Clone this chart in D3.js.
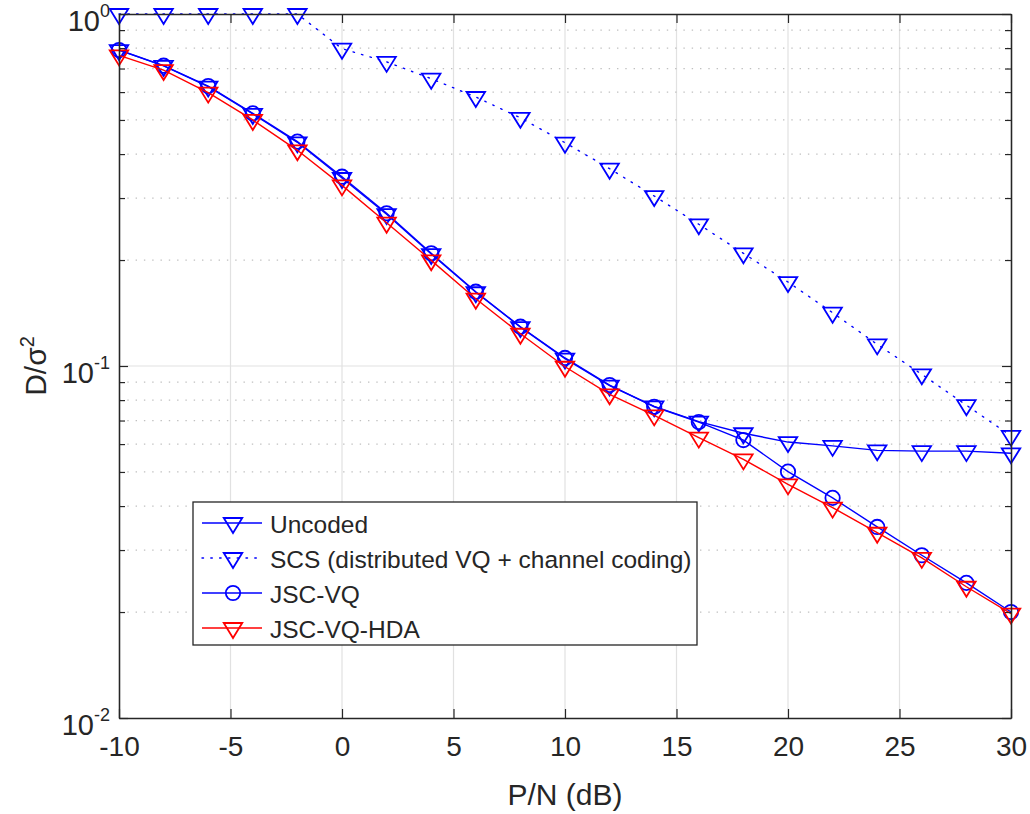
<!DOCTYPE html>
<html>
<head>
<meta charset="utf-8">
<script src="https://cdn.jsdelivr.net/npm/d3@7"></script>
<style>
  html, body { margin: 0; padding: 0; background: #fff; }
  svg { display: block; }
  text { font-family: "Liberation Sans", Arial, Helvetica, sans-serif; fill: #262626; }
</style>
</head>
<body>
<svg id="chart" width="1030" height="814"></svg>
<script>
// ---------------- data ----------------
const snrDb = [-10, -8, -6, -4, -2, 0, 2, 4, 6, 8, 10, 12, 14, 16, 18, 20, 22, 24, 26, 28, 30];
const uncoded = [0.790, 0.712, 0.622, 0.520, 0.432, 0.342, 0.270, 0.208, 0.162, 0.129, 0.105, 0.088, 0.0768, 0.0695, 0.0644, 0.0608, 0.0593, 0.0576, 0.0573, 0.0573, 0.0565];
const scs = [1.0, 1.0, 1.0, 1.0, 1.0, 0.797, 0.731, 0.655, 0.581, 0.507, 0.431, 0.3635, 0.304, 0.2527, 0.209, 0.1732, 0.1417, 0.1152, 0.0947, 0.0774, 0.0633];
const jscVq = [0.790, 0.713, 0.624, 0.522, 0.434, 0.345, 0.2716, 0.209, 0.1626, 0.1293, 0.1054, 0.0883, 0.0766, 0.0693, 0.0616, 0.0501, 0.0422, 0.0349, 0.0290, 0.0242, 0.0200];
const jscVqHda = [0.763, 0.693, 0.598, 0.500, 0.410, 0.326, 0.2553, 0.1996, 0.1553, 0.1235, 0.0995, 0.0831, 0.0724, 0.0626, 0.0543, 0.0461, 0.0396, 0.0336, 0.0285, 0.0236, 0.0198];

const seriesNames = ["Uncoded", "SCS (distributed VQ + channel coding)", "JSC-VQ", "JSC-VQ-HDA"];
const xTickValues = [-10, -5, 0, 5, 10, 15, 20, 25, 30];
const xTickLabels = ["-10", "-5", "0", "5", "10", "15", "20", "25", "30"];
const yMajorTicks = [0.01, 0.1, 1];
const yTickExponents = ["-2", "-1", "0"];
const yMinorTicks = [0.02, 0.03, 0.04, 0.05, 0.06, 0.07, 0.08, 0.09, 0.2, 0.3, 0.4, 0.5, 0.6, 0.7, 0.8, 0.9];
const xLabel = "P/N (dB)";

// ---------------- layout ----------------
const L = 119, R = 1011, T = 14, B = 718;
const svg = d3.select("#chart");
const x = d3.scaleLinear().domain([-10, 30]).range([L, R]);
const y = d3.scaleLog().domain([0.01, 1]).range([B, T]);

const BLUE = "#0000ff", RED = "#ff0000", AX = "#262626";

// ---------------- grid ----------------
const grid = svg.append("g");
grid.selectAll("line.vx").data(xTickValues.slice(1, -1)).enter().append("line")
  .attr("x1", d => x(d)).attr("x2", d => x(d)).attr("y1", T).attr("y2", B)
  .attr("stroke", "#e1e1e1").attr("stroke-width", 1.2);
grid.selectAll("line.minor").data(yMinorTicks).enter().append("line")
  .attr("x1", L).attr("x2", R).attr("y1", d => y(d)).attr("y2", d => y(d))
  .attr("stroke", "#c0c0c0").attr("stroke-width", 1.3).attr("stroke-dasharray", "1.4,6.9");
grid.selectAll("line.major").data(yMajorTicks.slice(1, -1)).enter().append("line")
  .attr("x1", L).attr("x2", R).attr("y1", d => y(d)).attr("y2", d => y(d))
  .attr("stroke", "#e1e1e1").attr("stroke-width", 1.2);

// ---------------- series ----------------
const line = d3.line().x(d => x(d[0])).y(d => y(d[1]));
const series = [
  { name: seriesNames[0], vals: uncoded, color: BLUE, dash: null, marker: "tri" },
  { name: seriesNames[1], vals: scs, color: BLUE, dash: "1.5,7.3", marker: "tri" },
  { name: seriesNames[2], vals: jscVq, color: BLUE, dash: null, marker: "circ" },
  { name: seriesNames[3], vals: jscVqHda, color: RED, dash: null, marker: "tri" }
];
const TW = 18.5, TH = 15;
const triPath = `M${-TW/2},${-TH/3}L${TW/2},${-TH/3}L0,${2*TH/3}Z`;

function drawMarker(g, type, color) {
  if (type === "tri") {
    g.append("path").attr("d", triPath).attr("fill", "none")
      .attr("stroke", color).attr("stroke-width", 1.8).attr("stroke-linejoin", "miter");
  } else {
    g.append("circle").attr("r", 7.2).attr("fill", "none")
      .attr("stroke", color).attr("stroke-width", 1.8);
  }
}

series.forEach(s => {
  const pts = snrDb.map((d, i) => [d, s.vals[i]]);
  const p = svg.append("path").datum(pts).attr("d", line)
    .attr("fill", "none").attr("stroke", s.color).attr("stroke-width", 1.4);
  if (s.dash) p.attr("stroke-dasharray", s.dash).attr("stroke-linecap", "round");
  pts.forEach(pt => {
    const g = svg.append("g").attr("transform", `translate(${x(pt[0])},${y(pt[1])})`);
    drawMarker(g, s.marker, s.color);
  });
});

// ---------------- axes ----------------
const axB = svg.append("g").attr("transform", `translate(0,${B})`)
  .call(d3.axisBottom(x).tickValues(xTickValues).tickFormat((d, i) => xTickLabels[i])
    .tickSizeInner(-9).tickSizeOuter(0).tickPadding(18));
const axT = svg.append("g").attr("transform", `translate(0,${T})`)
  .call(d3.axisTop(x).tickValues(xTickValues).tickFormat("").tickSizeInner(-9).tickSizeOuter(0));
const axL = svg.append("g").attr("transform", `translate(${L},0)`)
  .call(d3.axisLeft(y).tickValues(yMajorTicks).tickFormat("").tickSizeInner(-9).tickSizeOuter(0));
const axLm = svg.append("g").attr("transform", `translate(${L},0)`)
  .call(d3.axisLeft(y).tickValues(yMinorTicks).tickFormat("").tickSizeInner(-6).tickSizeOuter(0));
const axR = svg.append("g").attr("transform", `translate(${R},0)`)
  .call(d3.axisRight(y).tickValues(yMajorTicks).tickFormat("").tickSizeInner(-9).tickSizeOuter(0));
const axRm = svg.append("g").attr("transform", `translate(${R},0)`)
  .call(d3.axisRight(y).tickValues(yMinorTicks).tickFormat("").tickSizeInner(-6).tickSizeOuter(0));
[axB, axT, axL, axLm, axR, axRm].forEach(a => {
  a.selectAll("path.domain").attr("stroke", AX).attr("stroke-width", 1.3);
  a.selectAll(".tick line").attr("stroke", AX).attr("stroke-width", 1.2);
});
axB.selectAll(".tick text").style("font-size", "28px").attr("fill", AX)
  .style("font-family", '"Liberation Sans", Arial, sans-serif');

// y tick labels with superscripts
yMajorTicks.forEach((v, i) => {
  const t = svg.append("text").attr("x", 110).attr("y", y(v) + 17)
    .attr("text-anchor", "end").style("font-size", "29px");
  t.append("tspan").text("10");
  t.append("tspan").attr("dy", -14).style("font-size", "18px").text(yTickExponents[i]);
});

// axis labels
svg.append("text").attr("x", (L + R) / 2).attr("y", 805).attr("text-anchor", "middle")
  .style("font-size", "30px").text(xLabel);
const yl = svg.append("text").attr("transform", "translate(46,366) rotate(-90)")
  .attr("text-anchor", "middle").style("font-size", "30px");
yl.append("tspan").text("D/σ");
yl.append("tspan").attr("dy", -12).style("font-size", "20px").text("2");

// ---------------- legend ----------------
const lg = svg.append("g");
lg.append("rect").attr("x", 193).attr("y", 502).attr("width", 504).attr("height", 143)
  .attr("fill", "#fff").attr("stroke", AX).attr("stroke-width", 1.3);
series.forEach((s, i) => {
  const cy = 523 + i * 35;
  const ln = lg.append("line").attr("x1", 202).attr("x2", 262).attr("y1", cy).attr("y2", cy)
    .attr("stroke", s.color).attr("stroke-width", 1.4);
  if (s.dash) ln.attr("stroke-dasharray", s.dash).attr("stroke-linecap", "round");
  const g = lg.append("g").attr("transform", `translate(233,${cy})`);
  drawMarker(g, s.marker, s.color);
  lg.append("text").attr("x", 270).attr("y", cy + 9.5).style("font-size", "24.5px")
    .attr("fill", "#000").text(s.name);
});
</script>
</body>
</html>
